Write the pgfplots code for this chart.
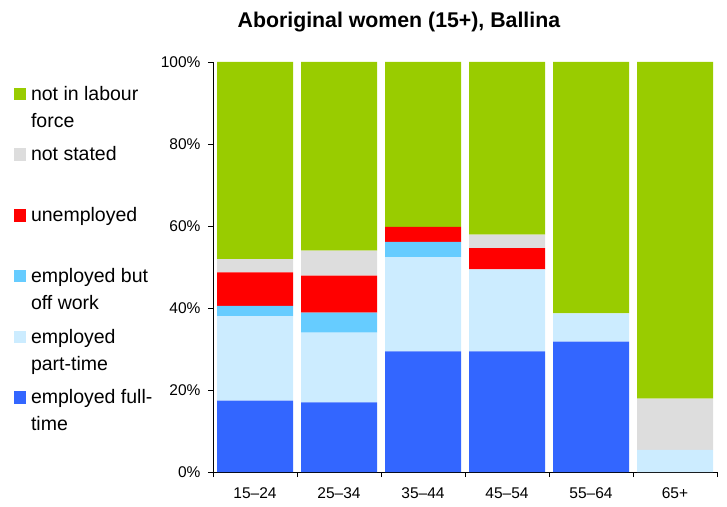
\documentclass[border=0pt]{standalone}
\usepackage{pgfplots}
\pgfplotsset{compat=1.18}
\usepackage{fontspec}
\setmainfont{Liberation Sans}
\definecolor{cnilf}{HTML}{99CC00}
\definecolor{cns}{HTML}{DDDDDD}
\definecolor{cun}{HTML}{FF0000}
\definecolor{coff}{HTML}{66CCFF}
\definecolor{cpt}{HTML}{CCECFF}
\definecolor{cft}{HTML}{3366FF}
\newcommand{\legtxt}[1]{\parbox[t]{140pt}{\fontsize{19.5}{27}\selectfont #1}}
\begin{document}
\begin{tikzpicture}
\useasboundingbox (0,0) rectangle (727pt,506pt);
\begin{axis}[
  at={(213pt,34pt)}, anchor=south west,
  scale only axis, width=504pt, height=410pt,
  ybar stacked, bar width=76pt,
  xmin=-0.5, xmax=5.5, ymin=0, ymax=100,
  axis x line*=bottom, axis y line*=left,
  axis line style={black, line width=0.8pt},
  xtick={-0.5,0.5,1.5,2.5,3.5,4.5,5.5},
  x tick label as interval,
  xticklabels={15--24,25--34,35--44,45--54,55--64,65+},
  ytick={0,20,40,60,80,100},
  yticklabel={\pgfmathprintnumber{\tick}\%},
  /pgf/number format/assume math mode=true,
  tick align=outside, major tick length=5pt,
  tick style={black, line width=0.8pt},
  ticklabel style={font=\fontsize{15.5}{18}\selectfont},
  xticklabel style={yshift=-7pt},
  yticklabel style={xshift=-4pt},
  title={\textbf{Aboriginal women (15+), Ballina}},
  title style={at={(0.369,1.0707)}, anchor=base, font=\fontsize{21.3}{25}\selectfont, inner sep=0pt},
  legend style={at={(-0.3962,0.9534)}, anchor=north west, draw=none, fill=none,
    inner sep=0pt, row sep=6.7pt, column sep=5pt,
    nodes={inner sep=0pt, anchor=base west}},
  legend cell align=left,
  reverse legend,
  area legend,
  legend image code/.code={\path[draw=none,fill=none] (6pt,-35.1pt) -- (6pt,0pt);\fill[#1] (0pt,0pt) rectangle (12.5pt,12.5pt);},
]
\addplot[fill=cft, draw=none] coordinates {(0,17.4) (1,17.0) (2,29.4) (3,29.4) (4,31.8) (5,0)};
\addplot[fill=cpt, draw=none] coordinates {(0,20.6) (1,17.0) (2,23.0) (3,20.0) (4,6.9) (5,5.4)};
\addplot[fill=coff, draw=none] coordinates {(0,2.5) (1,4.9) (2,3.7) (3,0) (4,0) (5,0)};
\addplot[fill=cun, draw=none] coordinates {(0,8.2) (1,9.0) (2,3.7) (3,5.2) (4,0) (5,0)};
\addplot[fill=cns, draw=none] coordinates {(0,3.2) (1,6.1) (2,0) (3,3.3) (4,0) (5,12.5)};
\addplot[fill=cnilf, draw=none] coordinates {(0,48.1) (1,46.0) (2,40.2) (3,42.1) (4,61.3) (5,82.1)};
\legend{\legtxt{\strut employed full-\\time\strut},
        \legtxt{\strut employed\\part-time\strut},
        \legtxt{\strut employed but\\off work\strut},
        \legtxt{\strut unemployed\\\strut},
        \legtxt{\strut not stated\\\strut},
        \legtxt{\strut not in labour\\force\strut}}
\end{axis}
\end{tikzpicture}
\end{document}
